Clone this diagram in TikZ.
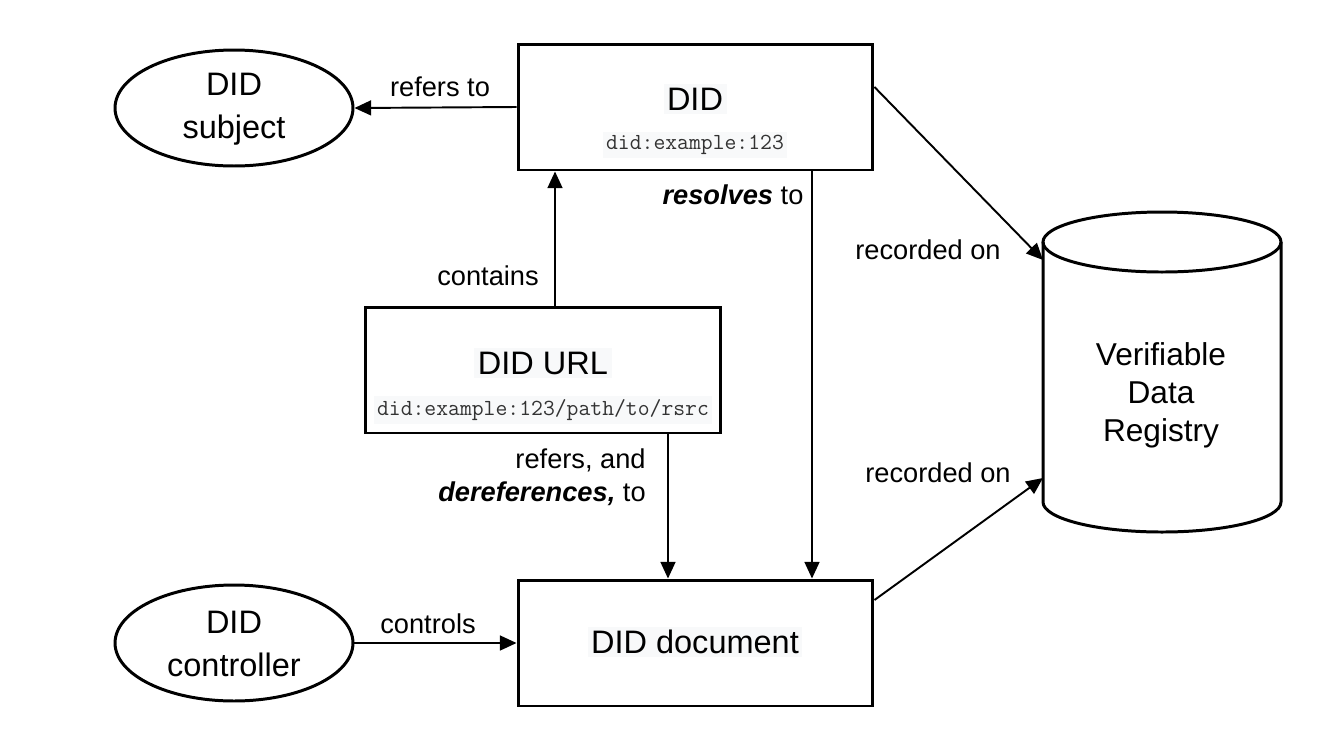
\documentclass[tikz,border=0pt]{standalone}
\usepackage{fontspec}
\setmainfont{Liberation Sans}
\usetikzlibrary{arrows.meta,shapes.geometric}
\definecolor{txtbg}{HTML}{F8F9FA}
\definecolor{codegray}{HTML}{333333}
\begin{document}
\begin{tikzpicture}[x=0.02cm,y=-0.02cm,
  box/.style={draw, line width=1.7pt, minimum width=7.1cm, minimum height=2.52cm, inner sep=0pt},
  ell/.style={draw, ellipse, line width=1.7pt, minimum width=4.76cm, minimum height=2.32cm, inner sep=0pt},
  etext/.style={align=center, inner sep=0pt, font=\fontsize{18.5}{24.4}\selectfont},
  conn/.style={line width=1.1pt, -{Triangle[length=9.5pt,width=8.5pt]}},
  lbl/.style={font=\fontsize{15.5}{18.7}\selectfont, inner sep=0pt},
  big/.style={font=\fontsize{18.5}{22}\selectfont, fill=txtbg, inner sep=2pt},
  mono/.style={font=\fontsize{13.1}{15}\ttfamily, text=codegray, fill=txtbg, inner sep=2pt}]
\useasboundingbox (0,0) rectangle (1336,731);

% nodes
\node[ell] (subj) at (234,108) {};
\node[etext] (subjt) at (234,109) {DID\\subject};
\node[ell] (ctrl) at (234,643) {};
\node[etext] (ctrlt) at (234,644) {DID\\controller};
\node[box] (did) at (695.5,107) {};
\node[big] (didt) at (695,99) {DID};
\node[mono] (didc) at (695,145) {did:example:123};
\node[box] (url) at (543,370) {};
\node[big] (urlt) at (543,363) {DID URL};
\node[mono] (urlc) at (543,410) {did:example:123/path/to/rsrc};
\node[box] (doc) at (695.5,643) {};
\node[big] (doct) at (695,642) {DID document};

% cylinder (verifiable data registry)
\draw[line width=1.7pt] (1162,242) ellipse [x radius=119, y radius=30];
\draw[line width=1.7pt] (1043,242) -- (1043,502) arc[start angle=180, end angle=360, x radius=119, y radius=-30] -- (1281,242);
\node[align=center, font=\fontsize{18}{21.7}\selectfont] (vdr) at (1161,395) {Verifiable\\Data\\Registry};
\coordinate (vdrA) at (1043,260);
\coordinate (vdrB) at (1043,478);

% connectors
\draw[conn] (did.west) -- (subj.east);
\draw[conn] (url.north -| 555,0) -- (did.south -| 555,0);
\draw[conn] (did.south -| 812,0) -- (doc.north -| 812,0);
\draw[conn] (url.south -| 668,0) -- (doc.north -| 668,0);
\draw[conn] (ctrl.east) -- (doc.west);
\draw[conn] (did.east |- 0,87) -- (vdrA);
\draw[conn] (doc.east |- 0,600) -- (vdrB);

% labels
\node[lbl] (l1) at (440,87) {refers to};
\node[lbl] (l2) at (488,276) {contains};
\node[lbl] (l3) at (733,195) {\textbf{\textit{resolves}} to};
\node[lbl] (l4) at (928,250) {recorded on};
\node[lbl] (l5) at (938,473) {recorded on};
\node[lbl, align=right, anchor=east] (l6) at (646,477) {refers, and\\\textbf{\textit{dereferences,}} to};
\node[lbl] (l7) at (428,624) {controls};
\end{tikzpicture}
\end{document}
